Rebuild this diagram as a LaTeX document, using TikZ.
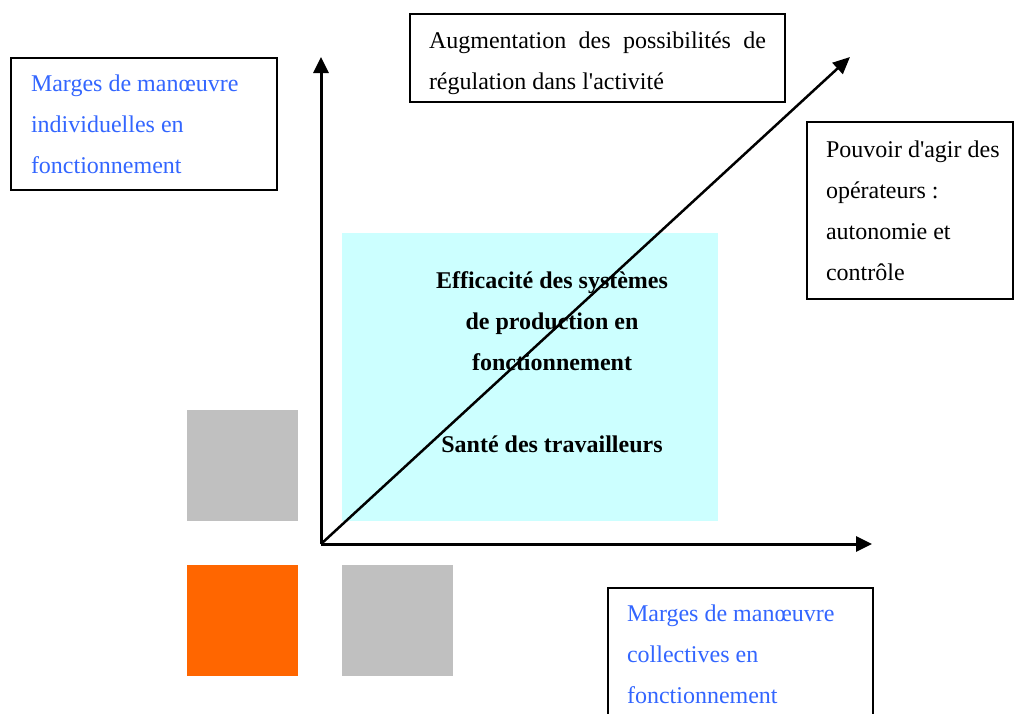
\documentclass[tikz,border=0pt]{standalone}
\usepackage{fontspec}
\setmainfont{Liberation Serif}
\usetikzlibrary{arrows.meta}
\definecolor{margeblue}{RGB}{51,102,255}
\definecolor{zonecyan}{RGB}{204,255,255}
\definecolor{blockgray}{RGB}{192,192,192}
\definecolor{blockorange}{RGB}{255,102,0}
\begin{document}
\begin{tikzpicture}[x=1pt,y=-1pt,
  labelbox/.style={draw=black, line width=2pt, align=left, anchor=north west,
    inner ysep=0pt, font=\fontsize{24}{41}\selectfont,
    execute at begin node={\spaceskip=0pt\xspaceskip=0pt\relax}},
  square/.style={anchor=north west, minimum width=111pt, minimum height=111pt, inner sep=0pt, draw=none},
  axis/.style={line width=3pt, -{Triangle[length=16pt,width=15pt]}},
  diag/.style={line width=2.5pt, -{Triangle[length=17pt,width=15pt]}}]
\useasboundingbox (0,0) rectangle (1016,713);
\clip (0,0) rectangle (1016,713);
\fill[white] (0,0) rectangle (1016,713);

% coloured zone and squares
\node[square, fill=zonecyan, minimum width=376pt, minimum height=288pt] (zone) at (342,233) {};
\node[square, fill=blockgray] (sqA) at (187,410) {};
\node[square, fill=blockorange] (sqB) at (187,565) {};
\node[square, fill=blockgray] (sqC) at (342,565) {};

% central text
\node[font=\fontsize{24}{41}\selectfont\bfseries, align=center, inner sep=0pt,
  execute at begin node={\spaceskip=0pt\xspaceskip=0pt\relax}] (centre) at (552,362)
  {Efficacité des systèmes\\de production en\\fonctionnement\\[41pt]Santé des travailleurs};

% labelled boxes
\node[labelbox, text=margeblue, text width=226pt, inner xsep=20pt, minimum height=132pt] (indiv) at (10,57)
  {Marges de manœuvre\\individuelles en\\fonctionnement};
\node[labelbox, text width=337pt, inner xsep=19pt, minimum height=88pt] (regul) at (409,13)
  {\rule{0pt}{28pt}\makebox[337pt][s]{Augmentation des possibilités de}\\régulation dans l\textquotesingle activité};
\node[labelbox, text width=206pt, inner xsep=0pt, minimum height=177pt] (pouvoir) at (806,121)
  {\hspace*{19pt}Pouvoir d\textquotesingle agir des\\\hspace*{19pt}opérateurs :\\\hspace*{19pt}autonomie et\\\hspace*{19pt}contrôle};
\node[labelbox, text=margeblue, text width=227pt, inner xsep=19pt, minimum height=132pt] (coll) at (607,587)
  {Marges de manœuvre\\collectives en\\fonctionnement};

% axes
\coordinate (O) at (321,544);
\coordinate (Ytip) at (321,57);
\coordinate (Xtip) at (872,544);
\coordinate (Dtip) at (850,57);
\draw[axis] (O) -- (Ytip);
\draw[axis] (O) -- (Xtip);
\draw[diag] (O) -- (Dtip);
\end{tikzpicture}
\end{document}
